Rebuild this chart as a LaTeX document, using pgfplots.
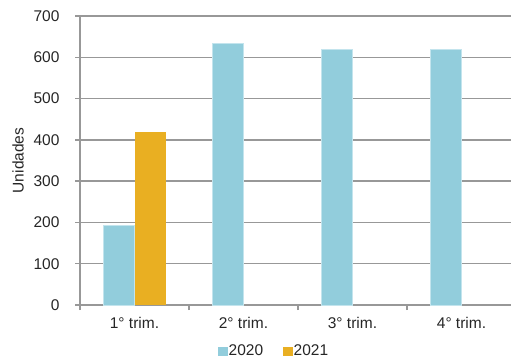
\documentclass[border=0pt]{standalone}
\usepackage{pgfplots}
\pgfplotsset{compat=1.18}
\usepackage{fontspec}
\setmainfont{Liberation Sans}
\definecolor{c2020}{RGB}{146,205,220}
\definecolor{c2021}{RGB}{233,175,34}
\definecolor{gridc}{RGB}{152,152,152}
\begin{document}
\begin{tikzpicture}[x=1bp,y=1bp]
\path[use as bounding box] (0,0) rectangle (511,360);
\begin{axis}[
  at={(80bp,55bp)}, anchor=south west,
  scale only axis, width=436bp, height=289bp,
  xmin=-0.5, xmax=3.5, ymin=0, ymax=700,
  ybar=0pt, bar width=31bp,
  axis x line*=bottom, axis y line*=left,
  axis line style={gridc, line width=1.5bp},
  ymajorgrids, grid style={gridc, line width=1.5bp},
  ytick={0,100,...,700},
  xtick={0,1,2,3}, xticklabels={1° trim., 2° trim., 3° trim., 4° trim.},
  minor xtick={-0.5,0.5,1.5,2.5,3.5},
  major x tick style={draw=none},
  tick align=outside,
  major tick length=5bp, minor tick length=5bp,
  every tick/.style={gridc, line width=1.5bp},
  ticklabel style={font=\fontsize{15.5bp}{18bp}\selectfont, text=black!85},
  yticklabel style={xshift=-12bp},
  xticklabel style={yshift=-4bp},
  /pgf/number format/assume math mode=true,
  ylabel={Unidades},
  ylabel style={font=\fontsize{15.5bp}{18bp}\selectfont, text=black!85, at={(axis description cs:-0.142,0.5)}, anchor=center},
  legend style={at={(axis description cs:0.3165,-0.1592)}, anchor=west, draw=none, inner sep=0pt,
    font=\fontsize{15.5bp}{18bp}\selectfont, text=black!85,
    nodes={inner sep=1bp}},
  legend columns=2,
  /tikz/every even column/.append style={column sep=19bp},
  legend image code/.code={\fill[#1, draw=none] (0bp,-4.5bp) rectangle (9.5bp,4.5bp);},
]
\addplot[fill=c2020, draw={rgb,255:red,195;green,228;blue,237}, line width=0.6bp] coordinates {(0,192) (1,633) (2,619) (3,619)};
\addplot[fill=c2021, draw=none] coordinates {(0,419)};
\legend{2020, 2021}
\end{axis}
\end{tikzpicture}
\end{document}
